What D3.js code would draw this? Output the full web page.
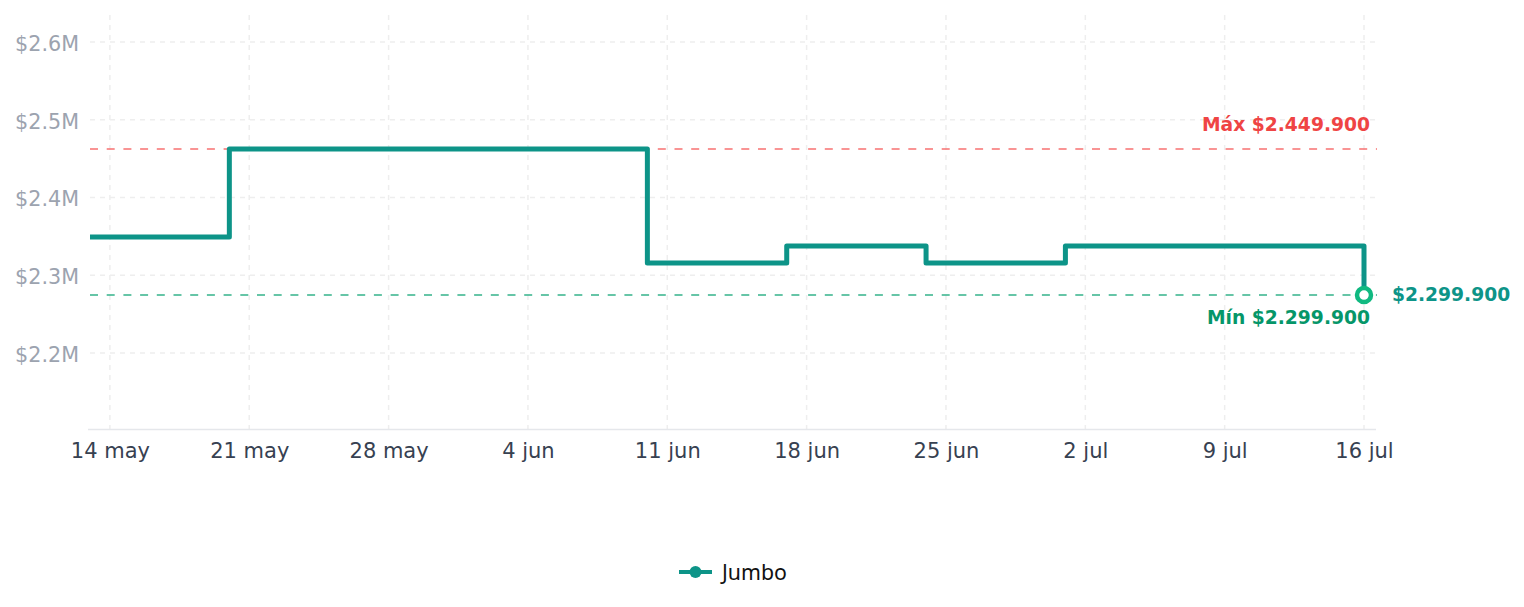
<!DOCTYPE html>
<html>
<head>
<meta charset="utf-8">
<script src="https://cdn.jsdelivr.net/npm/d3@7"></script>
<style>
  html, body { margin: 0; padding: 0; background: #fff; }
  svg { display: block; font-family: "DejaVu Sans", sans-serif; }
</style>
</head>
<body>
<svg id="chart" width="1524" height="607"></svg>
<script>
// price steps for Jumbo (date the price started, price in CLP)
const stepDates = ['2025-05-13', '2025-05-20', '2025-06-10', '2025-06-17', '2025-06-24', '2025-07-01', '2025-07-16'];
const stepPrices = [2349200, 2462400, 2315800, 2337600, 2315800, 2337600, 2274600];

const yTicks = [2200000, 2300000, 2400000, 2500000, 2600000];
const xTickDates = ['2025-05-14', '2025-05-21', '2025-05-28', '2025-06-04', '2025-06-11', '2025-06-18', '2025-06-25', '2025-07-02', '2025-07-09', '2025-07-16'];
const monthsEs = ['ene', 'feb', 'mar', 'abr', 'may', 'jun', 'jul', 'ago', 'sep', 'oct', 'nov', 'dic'];

const maxLine = 2462400, maxLabel = 'Máx $2.449.900';
const minLine = 2274600, minLabel = 'Mín $2.299.900';
const lastLabel = '$2.299.900';
const seriesName = 'Jumbo';

const parse = d3.utcParse('%Y-%m-%d');
const data = stepDates.map((d, i) => ({ date: parse(d), price: stepPrices[i] }));

const svg = d3.select('#chart');
const plotLeft = 90, plotRight = 1376, plotTop = 15, plotBottom = 429;

const x = d3.scaleUtc()
  .domain([parse('2025-05-13'), parse('2025-07-16')])
  .range([plotLeft, 1364]);
const y = d3.scaleLinear()
  .domain([2102300, 2634700])
  .range([plotBottom, plotTop]);

const teal = '#0d9488';

// grid
const grid = svg.append('g').attr('stroke', '#eeeeee').attr('stroke-width', 1.5).attr('stroke-dasharray', '5,5');
grid.selectAll('.hg').data(yTicks).enter().append('line')
  .attr('x1', plotLeft).attr('x2', plotRight)
  .attr('y1', d => y(d)).attr('y2', d => y(d));
grid.selectAll('.vg').data(xTickDates).enter().append('line')
  .attr('x1', d => x(parse(d))).attr('x2', d => x(parse(d)))
  .attr('y1', plotTop).attr('y2', plotBottom);

// axes
const yAxis = svg.append('g')
  .attr('transform', `translate(${plotLeft},0)`)
  .call(d3.axisLeft(y).tickValues(yTicks).tickSize(0).tickPadding(11)
    .tickFormat(d => '$' + (d / 1e6).toFixed(1) + 'M'));
yAxis.select('.domain').remove();
yAxis.selectAll('text').attr('fill', '#9ca3af').attr('dy', '0.4em')
  .style('font-size', '20.7px').style('font-family', 'DejaVu Sans');

const xAxis = svg.append('g')
  .attr('transform', `translate(0,${plotBottom})`)
  .call(d3.axisBottom(x).tickValues(xTickDates.map(parse)).tickSize(0).tickPadding(14)
    .tickFormat(d => d.getUTCDate() + ' ' + monthsEs[d.getUTCMonth()]));
xAxis.select('.domain').attr('d', `M${plotLeft - 2},0.5H${plotRight}`).attr('stroke', '#e5e7eb').attr('stroke-width', 1.5);
xAxis.selectAll('text').attr('fill', '#374151').style('font-size', '21px').style('font-family', 'DejaVu Sans');

// reference lines
svg.append('line')
  .attr('x1', plotLeft).attr('x2', plotRight + 1)
  .attr('y1', y(maxLine)).attr('y2', y(maxLine))
  .attr('stroke', '#f87171').attr('stroke-width', 1.5).attr('stroke-dasharray', '8,8.7');
svg.append('line')
  .attr('x1', plotLeft).attr('x2', plotRight + 1)
  .attr('y1', y(minLine)).attr('y2', y(minLine))
  .attr('stroke', '#34b38a').attr('stroke-width', 1.5).attr('stroke-dasharray', '8,8.7');

svg.append('text')
  .attr('x', 1370).attr('y', y(maxLine) - 18)
  .attr('text-anchor', 'end')
  .attr('fill', '#ef4444').style('font-weight', 'bold').style('font-size', '18.7px')
  .text(maxLabel);
svg.append('text')
  .attr('x', 1370).attr('y', y(minLine) + 29)
  .attr('text-anchor', 'end')
  .attr('fill', '#059669').style('font-weight', 'bold').style('font-size', '18.7px')
  .text(minLabel);

// step line
const line = d3.line()
  .x(d => x(d.date))
  .y(d => y(d.price))
  .curve(d3.curveStepAfter);
svg.append('path')
  .datum(data)
  .attr('d', line)
  .attr('fill', 'none')
  .attr('stroke', teal)
  .attr('stroke-width', 5)
  .attr('stroke-linejoin', 'round');

// last point
const last = data[data.length - 1];
svg.append('circle')
  .attr('cx', x(last.date)).attr('cy', y(last.price)).attr('r', 7)
  .attr('fill', '#fff').attr('stroke', '#10b981').attr('stroke-width', 4.5);
svg.append('text')
  .attr('x', x(last.date) + 28).attr('y', y(last.price) + 6)
  .attr('fill', teal).style('font-weight', 'bold').style('font-size', '18.7px')
  .text(lastLabel);

// legend
const lg = svg.append('g').attr('transform', 'translate(679,572)');
lg.append('line').attr('x1', 0).attr('x2', 33).attr('stroke', teal).attr('stroke-width', 4);
lg.append('circle').attr('cx', 16.5).attr('r', 6).attr('fill', teal);
lg.append('text').attr('x', 43).attr('y', 8)
  .style('font-family', '"Noto Sans", sans-serif').style('font-size', '21.3px').attr('fill', '#111')
  .text(seriesName);
</script>
</body>
</html>
